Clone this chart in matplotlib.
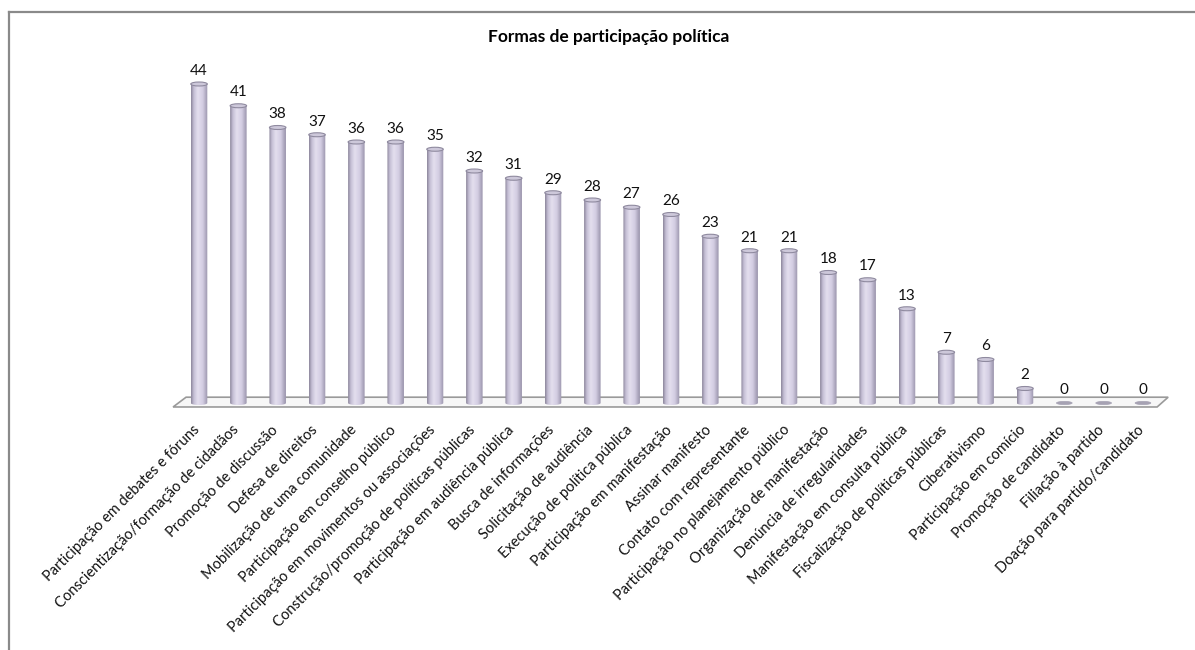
import numpy as np
import matplotlib
matplotlib.use('Agg')
import matplotlib.pyplot as plt
from matplotlib.colors import LinearSegmentedColormap
from matplotlib.patches import Ellipse, Polygon
from matplotlib.lines import Line2D

plt.rcParams['font.family'] = ['Lato', 'DejaVu Sans']

title = "Formas de participação política"

categories = [
    "Participação em debates e fóruns",
    "Conscientização/formação de cidadãos",
    "Promoção de discussão",
    "Defesa de direitos",
    "Mobilização de uma comunidade",
    "Participação em conselho público",
    "Participação em movimentos ou associações",
    "Construção/promoção de políticas públicas",
    "Participação em audiência pública",
    "Busca de informações",
    "Solicitação de audiência",
    "Execução de política pública",
    "Participação em manifestação",
    "Assinar manifesto",
    "Contato com representante",
    "Participação no planejamento público",
    "Organização de manifestação",
    "Denúncia de irregularidades",
    "Manifestação em consulta pública",
    "Fiscalização de políticas públicas",
    "Ciberativismo",
    "Participação em comício",
    "Promoção de candidato",
    "Filiação à partido",
    "Doação para partido/candidato",
]
values = [44, 41, 38, 37, 36, 36, 35, 32, 31, 29, 28, 27, 26, 23, 21, 21, 18, 17, 13, 7, 6, 2, 0, 0, 0]

W, H = 1195, 650
fig = plt.figure(figsize=(W / 100, H / 100), dpi=100)

# axes placed so that bars line up with the reference
ax = fig.add_axes([171.5 / W, 239.75 / H, 1010.8 / W, 340.75 / H])
ax.set_xlim(-0.7, 25.0)
ax.set_ylim(-1, 46)
ax.axis('off')

bar_w = 0.42
cap_h = 0.55

cyl = LinearSegmentedColormap.from_list('cyl', [
    (0.0, '#8a8499'), (0.15, '#c3bdd3'), (0.4, '#e4dfef'),
    (0.7, '#d3cde2'), (1.0, '#9993ab')])
grad = np.linspace(0, 1, 64).reshape(1, -1)

# floor
floor = Polygon([(-0.66, -0.55), (-0.33, 0.8), (24.64, 0.8), (24.36, -0.55)],
                closed=True, facecolor='#f7f7f7', edgecolor='#9a9a9a', lw=1.2, zorder=1)
ax.add_patch(floor)

x = np.arange(len(values))
for xi, v in zip(x, values):
    if v > 0:
        left, right = xi - bar_w / 2, xi + bar_w / 2
        t = np.linspace(np.pi, 2 * np.pi, 30)
        bottom = np.column_stack([xi + bar_w / 2 * np.cos(t), cap_h / 2 * np.sin(t)])
        verts = np.vstack([[[left, v]], bottom, [[right, v]]])
        clip = Polygon(verts, closed=True, facecolor='none', edgecolor='none')
        ax.add_patch(clip)
        im = ax.imshow(grad, cmap=cyl, aspect='auto', interpolation='bicubic',
                       extent=(left, right, -cap_h / 2, v), zorder=2)
        im.set_clip_path(clip)
        ax.add_patch(Ellipse((xi, v), bar_w, cap_h, facecolor='#cdc8da',
                             edgecolor='#8f8a9f', lw=0.8, zorder=3))
    else:
        ax.add_patch(Ellipse((xi, 0), bar_w * 0.95, cap_h * 0.8, facecolor='#a6a2b3',
                             edgecolor='#a6a2b3', lw=0.5, zorder=3))
    ax.annotate(str(v), (xi, v), xytext=(0, 4.5), textcoords='offset points',
                ha='center', va='bottom', fontsize=11, color='#111111')

for xi, lab in zip(x, categories):
    ax.annotate(lab, (xi, -0.55), xytext=(-1, -15), textcoords='offset points',
                ha='right', va='center', rotation=45, rotation_mode='anchor',
                fontsize=10.5, color='#111111')

fig.text(609 / W, 1 - 37 / H, title, ha='center', va='center',
         fontsize=12.5, fontweight='bold', color='#000000')

# chart frame (top and left edges visible)
fig.add_artist(Line2D([9 / W, 1.0], [1 - 12 / H, 1 - 12 / H], transform=fig.transFigure,
                      color='#8a8a8a', lw=1.6))
fig.add_artist(Line2D([9 / W, 9 / W], [0, 1 - 12 / H], transform=fig.transFigure,
                      color='#8a8a8a', lw=1.6))

fig.savefig('out.png', dpi=100, facecolor='white')
